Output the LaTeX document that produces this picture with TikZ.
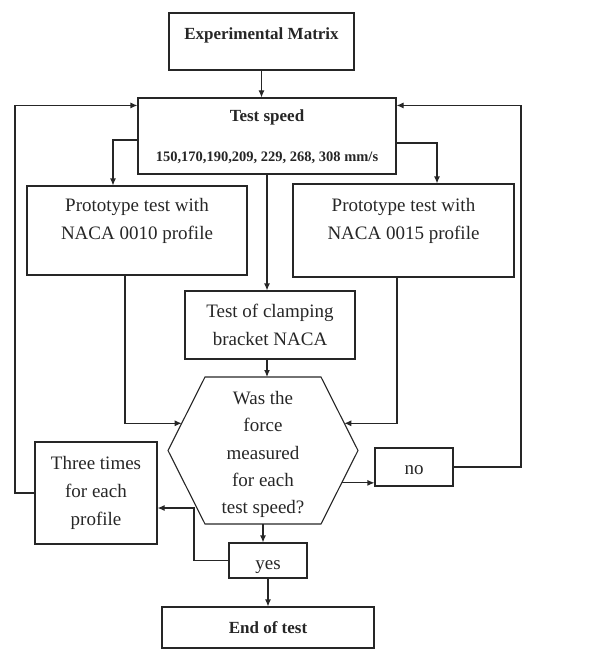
\documentclass[tikz,border=0pt]{standalone}
\usepackage{fontspec}
\setmainfont{Liberation Serif}
\usetikzlibrary{calc,arrows.meta}
\tikzset{
  box/.style={draw, align=center, inner sep=0pt, font=\fontsize{19}{28}\selectfont},
  hd/.style={font=\bfseries\fontsize{17}{21}\selectfont},
  arr/.style={-{Latex[length=7pt,width=6pt]}},
}
\begin{document}
\begin{tikzpicture}[x=1pt,y=-1pt,line width=1.1pt,color=black!85]
  \useasboundingbox (0,0) rectangle (595,650);
  \node[box,hd,minimum width=185,minimum height=57,text depth=15pt] (mat) at (261.5,41.5) {Experimental Matrix};
  \node[box,hd,minimum width=258,minimum height=76,text depth=-1pt] (speed) at (267,136)
    {Test speed\\[19pt]{\fontsize{14.5}{18}\selectfont 150,170,190,209, 229, 268, 308 mm/s}};
  \node[box,minimum width=220,minimum height=89,text depth=23pt] (p10) at (137,230.5) {Prototype test with\\NACA 0010 profile};
  \node[box,minimum width=221,minimum height=93,text depth=23pt] (p15) at (403.5,230.5) {Prototype test with\\NACA 0015 profile};
  \node[box,minimum width=170,minimum height=68,text depth=-3pt] (clamp) at (270,325) {Test of clamping\\bracket NACA};
  \node[box,draw=none,font=\fontsize{19}{27.3}\selectfont] (hex) at (263,454.5) {Was the\\force\\measured\\for each\\test speed?};
  \foreach \n/\dx/\dy in {NW/-58/-77.5,NE/58/-77.5,E/95/-4,SE/58/69.5,SW/-58/69.5,W/-95/-4}{
    \coordinate (h\n) at ($(hex)+(\dx,\dy)$);
  }
  \draw (hNW) -- (hNE) -- (hE) -- (hSE) -- (hSW) -- (hW) -- cycle;
  \node[box,minimum width=122,minimum height=102] (three) at (96,493) {Three times\\for each\\profile};
  \node[box,minimum width=78,minimum height=38,text height=19pt,text depth=4pt] (no) at (414,467) {no};
  \node[box,minimum width=78,minimum height=35,text height=21pt,text depth=4pt] (yes) at (268,560.5) {yes};
  \node[box,hd,minimum width=212,minimum height=41] (eot) at (268,627.5) {End of test};

  \coordinate (spL) at ($(speed.north west)+(0,8)$);
  \coordinate (spR) at ($(speed.north east)+(0,8)$);
  \coordinate (hN) at ($(hNW)!0.5!(hNE)$);
  \coordinate (hS) at ($(hSW)!0.5!(hSE)$);
  \coordinate (hl) at ($(hW)!0.37!(hNW)$);
  \coordinate (hr) at ($(hE)!0.37!(hNE)$);
  \coordinate (hno) at ($(hE)!0.44!(hSE)$);
  \coordinate (lline) at (15,0);
  \coordinate (rline) at (521,0);
  \coordinate (ycorner) at (194,0);
  \coordinate (tin) at ($(three.east)+(0,15)$);

  \draw[arr] (mat.south) -- (mat.south |- speed.north);
  \draw[arr] ($(speed.west)+(0,4)$) -| ($(p10.north)+(-24,0)$);
  \draw[arr] ($(speed.east)+(0,7)$) -| ($(p15.north)+(33.5,0)$);
  \draw[arr] (speed.south) -- (speed.south |- clamp.north);
  \draw[arr] (speed.south |- clamp.south) -- (speed.south |- hN);
  \draw[arr] ($(p10.south)+(-12,0)$) |- (hl);
  \draw[arr] ($(p15.south)+(-6.5,0)$) |- (hr);
  \draw[arr] (hno) -- (hno -| no.west);
  \draw[arr] (no.east) -| (rline |- spR) -- (spR);
  \draw[arr] (three.west) -| (lline |- spL) -- (spL);
  \draw[arr] (hS) -- (hS |- yes.north);
  \draw[arr] (yes.west) -| (ycorner |- tin) -- (tin);
  \draw[arr] (yes.south) -- (yes.south |- eot.north);
\end{tikzpicture}
\end{document}
